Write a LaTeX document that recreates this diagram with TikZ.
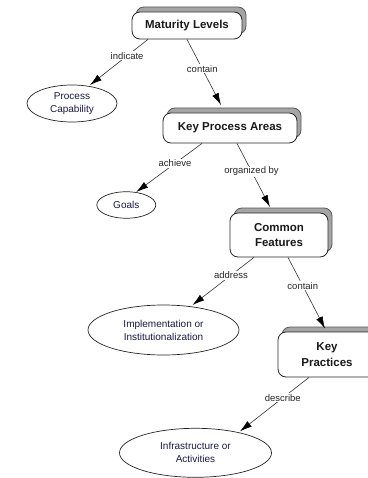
\documentclass[tikz,border=0pt]{standalone}
\usepackage{fontspec}
\setmainfont{Liberation Sans}
\usetikzlibrary{arrows.meta,calc,shapes.geometric}
\definecolor{navytext}{RGB}{25,25,70}
\definecolor{shadowfill}{RGB}{165,165,165}
\definecolor{shadowedge}{RGB}{90,90,90}
\begin{document}
\begin{tikzpicture}[x=1pt,y=-1pt,
  box/.style={draw=black!85, line width=0.8pt, rounded corners=8pt, fill=white,
    font=\bfseries\fontsize{11.5}{15.5}\selectfont, text=black!90, align=center, inner sep=0pt,
    preaction={fill=shadowfill, draw=shadowedge, transform canvas={shift={(4pt,5pt)}}}},
  oval/.style={ellipse, draw=black!85, line width=0.7pt, fill=white,
    font=\fontsize{10}{13}\selectfont, text=navytext, align=center, inner sep=0pt},
  link/.style={draw=black!80, line width=0.6pt, -{Latex[length=12pt,width=7pt,black]}},
  lbl/.style={fill=white, inner sep=1pt, font=\fontsize{9.5}{11}\selectfont, text=black!85}
]
\useasboundingbox (0,0) rectangle (367,478);
\fill[white] (0,0) rectangle (367,478);

% boxes
\node[box, minimum width=110pt, minimum height=27pt] (ml) at (187,25.5) {Maturity Levels};
\node[box, minimum width=134pt, minimum height=30pt] (kpa) at (230,128) {Key Process Areas};
\node[box, minimum width=98pt, minimum height=44pt] (cf) at (279,235) {Common\\Features};
\node[box, minimum width=98pt, minimum height=45pt] (kp) at (327,354.5) {Key\\Practices};

% ellipses
\node[oval, minimum width=90pt, minimum height=37pt] (pc) at (72,103.5) {Process\\Capability};
\node[oval, minimum width=59pt, minimum height=26.5pt] (goals) at (126.3,205) {Goals};
\node[oval, minimum width=151pt, minimum height=50pt] (impl) at (163.5,330) {Implementation or\\Institutionalization};
\node[oval, minimum width=152pt, minimum height=49pt] (infra) at (195.5,452.8) {Infrastructure or\\Activities};

% connectors
\draw[link] ($(ml.south)+(-39,0)$) -- node[lbl,pos=0.36]{indicate} ($(pc.center)+(18,-18.5)$);
\draw[link] ($(ml.south)+(0,0)$) -- node[lbl,pos=0.45]{contain} ($(kpa.center)+(-9,-23)$);
\draw[link] ($(kpa.south)+(-28,0)$) -- node[lbl,pos=0.41]{achieve} ($(goals.center)+(10,-13)$);
\draw[link] ($(kpa.south)+(7,0)$) -- node[lbl,pos=0.44]{organized by} ($(cf.center)+(-9,-28)$);
\draw[link] ($(cf.south)+(-25,0)$) -- node[lbl,pos=0.375]{address} ($(impl.center)+(29,-25)$);
\draw[link] ($(cf.south)+(9,0)$) -- node[lbl,pos=0.4]{contain} ($(kp.center)+(-2,-26)$);
\draw[link] ($(kp.south)+(-18,0)$) -- node[lbl,pos=0.38]{describe} ($(infra.center)+(44.5,-21.5)$);
\end{tikzpicture}
\end{document}
